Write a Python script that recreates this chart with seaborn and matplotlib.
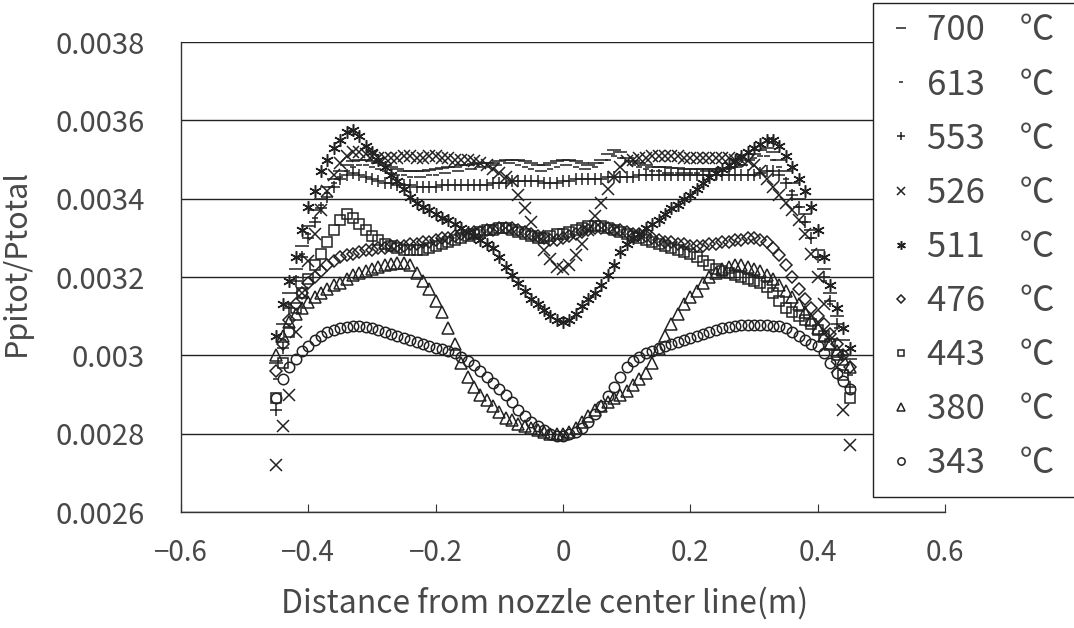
import numpy as np
import pandas as pd
import seaborn as sns
import matplotlib.pyplot as plt
from matplotlib.patches import Rectangle

# posiciones de medida (m)
x_pos = [-0.45, -0.44, -0.43, -0.42, -0.41, -0.40, -0.39, -0.38, -0.37, -0.36,
         -0.35, -0.34, -0.33, -0.32, -0.31, -0.30, -0.29, -0.28, -0.27, -0.26,
         -0.25, -0.24, -0.23, -0.22, -0.21, -0.20, -0.19, -0.18, -0.17, -0.16,
         -0.15, -0.14, -0.13, -0.12, -0.11, -0.10, -0.09, -0.08, -0.07, -0.06,
         -0.05, -0.04, -0.03, -0.02, -0.01, 0.00, 0.01, 0.02, 0.03, 0.04,
         0.05, 0.06, 0.07, 0.08, 0.09, 0.10, 0.11, 0.12, 0.13, 0.14,
         0.15, 0.16, 0.17, 0.18, 0.19, 0.20, 0.21, 0.22, 0.23, 0.24,
         0.25, 0.26, 0.27, 0.28, 0.29, 0.30, 0.31, 0.32, 0.33, 0.34,
         0.35, 0.36, 0.37, 0.38, 0.39, 0.40, 0.41, 0.42, 0.43, 0.44, 0.45]

# Ppitot/Ptotal en unidades de 1e-4
p700 = [29.8, 30.8, 31.6, 32.2, 32.8, 33.3, 33.7, 34.0, 34.3, 34.5,
        34.7, 34.85, 34.95, 35.0, 35.0, 34.95, 34.9, 34.85, 34.8, 34.75,
        34.7, 34.7, 34.7, 34.7, 34.72, 34.75, 34.78, 34.8, 34.82, 34.85,
        34.85, 34.88, 34.9, 34.9, 34.92, 34.95, 35.0, 35.0, 35.0, 34.95,
        34.9, 34.85, 34.85, 34.9, 34.95, 35.0, 35.0, 34.95, 34.9, 34.85,
        34.9, 35.0, 35.15, 35.25, 35.2, 35.05, 34.95, 34.9, 34.85, 34.8,
        34.8, 34.8, 34.78, 34.78, 34.75, 34.75, 34.75, 34.75, 34.75, 34.75,
        34.75, 34.78, 34.8, 34.85, 35.0, 35.15, 35.25, 35.3, 35.2, 35.0,
        34.7, 34.4, 34.0, 33.6, 33.2, 32.7, 32.2, 31.6, 31.0, 30.4, 29.9]

p613 = [29.4, 30.4, 31.3, 32.0, 32.6, 33.1, 33.5, 33.85, 34.15, 34.4,
        34.55, 34.7, 34.8, 34.85, 34.85, 34.8, 34.75, 34.7, 34.65, 34.6,
        34.6, 34.55, 34.55, 34.55, 34.6, 34.6, 34.65, 34.65, 34.7, 34.7,
        34.75, 34.75, 34.8, 34.8, 34.85, 34.85, 34.9, 34.9, 34.85, 34.8,
        34.75, 34.7, 34.7, 34.75, 34.8, 34.85, 34.85, 34.8, 34.75, 34.75,
        34.8, 34.9, 35.0, 35.1, 35.05, 34.95, 34.85, 34.8, 34.75, 34.7,
        34.7, 34.65, 34.65, 34.65, 34.65, 34.65, 34.65, 34.7, 34.7, 34.7,
        34.7, 34.75, 34.8, 34.85, 34.95, 35.05, 35.1, 35.1, 35.0, 34.8,
        34.5, 34.2, 33.8, 33.4, 33.0, 32.5, 31.9, 31.3, 30.7, 30.1, 29.5]

p553 = [28.6, 30.2, 31.2, 31.9, 32.5, 33.0, 33.4, 33.75, 34.05, 34.3,
        34.5, 34.6, 34.65, 34.6, 34.55, 34.5, 34.45, 34.4, 34.4, 34.35,
        34.35, 34.35, 34.3, 34.3, 34.3, 34.3, 34.35, 34.35, 34.35, 34.35,
        34.35, 34.35, 34.35, 34.35, 34.4, 34.4, 34.4, 34.45, 34.45, 34.45,
        34.45, 34.45, 34.4, 34.4, 34.4, 34.45, 34.45, 34.5, 34.5, 34.5,
        34.5, 34.5, 34.55, 34.55, 34.55, 34.55, 34.55, 34.6, 34.6, 34.6,
        34.6, 34.6, 34.6, 34.6, 34.6, 34.6, 34.6, 34.6, 34.6, 34.6,
        34.6, 34.6, 34.6, 34.6, 34.6, 34.6, 34.65, 34.7, 34.7, 34.6,
        34.4, 34.1, 33.8, 33.4, 33.0, 32.5, 32.0, 31.4, 30.8, 30.0, 29.2]

p526 = [27.2, 28.2, 29.0, 30.6, 31.6, 32.4, 33.1, 33.7, 34.2, 34.6,
        34.9, 35.1, 35.2, 35.2, 35.15, 35.1, 35.05, 35.05, 35.05, 35.05,
        35.1, 35.1, 35.05, 35.05, 35.1, 35.1, 35.05, 35.05, 35.0, 35.0,
        35.0, 34.95, 34.9, 34.85, 34.75, 34.65, 34.55, 34.45, 34.1, 33.75,
        33.4, 33.05, 32.7, 32.45, 32.25, 32.2, 32.3, 32.55, 32.85, 33.2,
        33.55, 33.9, 34.25, 34.55, 34.8, 34.95, 35.0, 35.05, 35.05, 35.1,
        35.1, 35.1, 35.1, 35.1, 35.05, 35.05, 35.05, 35.05, 35.05, 35.05,
        35.05, 35.05, 35.0, 35.0, 34.95, 34.85, 34.7, 34.5, 34.3, 34.1,
        33.9, 33.7, 33.45, 33.1, 32.6, 32.0, 31.3, 30.5, 29.7, 28.6, 27.7]

p511 = [30.5, 31.3, 31.9, 32.5, 33.2, 33.8, 34.2, 34.7, 35.0, 35.3,
        35.5, 35.7, 35.75, 35.6, 35.35, 35.2, 35.0, 34.8, 34.6, 34.45,
        34.25, 34.05, 33.9, 33.8, 33.7, 33.6, 33.5, 33.45, 33.35, 33.25,
        33.15, 33.05, 32.95, 32.85, 32.75, 32.5, 32.25, 32.05, 31.85, 31.65,
        31.45, 31.3, 31.15, 31.0, 30.9, 30.85, 30.9, 31.05, 31.25, 31.45,
        31.6, 31.8, 32.05, 32.3, 32.65, 32.85, 33.0, 33.1, 33.25, 33.35,
        33.45, 33.6, 33.75, 33.85, 34.0, 34.1, 34.25, 34.4, 34.55, 34.65,
        34.75, 34.85, 34.95, 35.1, 35.2, 35.3, 35.4, 35.5, 35.5, 35.35,
        35.1, 34.8, 34.5, 34.2, 33.8, 33.2, 32.5, 31.8, 31.2, 30.7, 30.2]

p476 = [29.6, 30.3, 30.9, 31.3, 31.6, 31.85, 32.0, 32.15, 32.3, 32.4,
        32.5, 32.55, 32.6, 32.65, 32.7, 32.7, 32.75, 32.75, 32.8, 32.8,
        32.8, 32.85, 32.85, 32.9, 32.9, 32.95, 33.0, 33.0, 33.05, 33.1,
        33.1, 33.15, 33.15, 33.2, 33.2, 33.25, 33.25, 33.25, 33.2, 33.15,
        33.1, 33.05, 33.0, 32.95, 32.95, 33.0, 33.05, 33.1, 33.15, 33.2,
        33.25, 33.25, 33.25, 33.2, 33.2, 33.15, 33.1, 33.1, 33.05, 33.0,
        32.95, 32.9, 32.9, 32.85, 32.85, 32.8, 32.8, 32.8, 32.85, 32.85,
        32.9, 32.9, 32.95, 32.95, 33.0, 33.0, 32.95, 32.9, 32.75, 32.55,
        32.3, 32.0, 31.7, 31.45, 31.2, 31.0, 30.8, 30.55, 30.3, 30.0, 29.7]

p443 = [28.9, 29.8, 30.6, 31.2, 31.6, 31.95, 32.3, 32.6, 32.9, 33.2,
        33.45, 33.6, 33.5, 33.35, 33.2, 33.05, 32.95, 32.85, 32.8, 32.75,
        32.7, 32.7, 32.7, 32.7, 32.75, 32.8, 32.85, 32.9, 32.95, 33.0,
        33.05, 33.1, 33.15, 33.2, 33.2, 33.25, 33.25, 33.2, 33.15, 33.1,
        33.05, 33.0, 33.0, 33.05, 33.1, 33.1, 33.15, 33.2, 33.25, 33.3,
        33.3, 33.3, 33.25, 33.2, 33.15, 33.1, 33.05, 33.0, 32.95, 32.9,
        32.85, 32.8, 32.75, 32.7, 32.65, 32.6, 32.5, 32.4, 32.3, 32.2,
        32.15, 32.1, 32.05, 32.0, 31.95, 31.9, 31.85, 31.75, 31.6, 31.4,
        31.2, 31.1, 31.0, 30.9, 30.8, 30.65, 30.5, 30.3, 30.0, 29.5, 28.9]

p380 = [30.0, 30.5, 30.85, 31.05, 31.2, 31.35, 31.5, 31.6, 31.7, 31.8,
        31.85, 31.95, 32.05, 32.1, 32.15, 32.2, 32.25, 32.3, 32.32, 32.35,
        32.35, 32.3, 32.1, 31.9, 31.7, 31.4, 31.1, 30.7, 30.3, 29.8,
        29.45, 29.2, 29.0, 28.85, 28.7, 28.55, 28.4, 28.35, 28.25, 28.2,
        28.15, 28.1, 28.05, 28.0, 28.0, 28.0, 28.05, 28.15, 28.3, 28.45,
        28.6, 28.7, 28.8, 28.9, 29.0, 29.1, 29.25, 29.4, 29.55, 29.8,
        30.15, 30.5, 30.8, 31.05, 31.3, 31.5, 31.65, 31.85, 32.0, 32.1,
        32.2, 32.25, 32.3, 32.3, 32.25, 32.2, 32.15, 32.05, 31.95, 31.8,
        31.65, 31.5, 31.3, 31.1, 30.9, 30.7, 30.5, 30.3, 30.1, 29.9, 29.7]

p343 = [28.9, 29.4, 29.7, 29.9, 30.1, 30.25, 30.4, 30.5, 30.6, 30.65,
        30.7, 30.72, 30.75, 30.75, 30.72, 30.7, 30.65, 30.6, 30.55, 30.5,
        30.45, 30.4, 30.35, 30.3, 30.25, 30.2, 30.15, 30.1, 30.05, 29.95,
        29.85, 29.75, 29.6, 29.45, 29.3, 29.15, 29.0, 28.8, 28.6, 28.45,
        28.3, 28.2, 28.1, 28.0, 27.95, 27.95, 28.0, 28.05, 28.15, 28.3,
        28.5, 28.7, 28.95, 29.2, 29.45, 29.7, 29.85, 29.95, 30.05, 30.1,
        30.2, 30.25, 30.3, 30.35, 30.4, 30.45, 30.5, 30.55, 30.6, 30.65,
        30.7, 30.72, 30.75, 30.77, 30.78, 30.78, 30.78, 30.77, 30.75, 30.75,
        30.7, 30.6, 30.5, 30.4, 30.3, 30.25, 30.05, 29.8, 29.55, 29.35, 29.15]

temps = ['700', '613', '553', '526', '511', '476', '443', '380', '343']
series = [p700, p613, p553, p526, p511, p476, p443, p380, p343]

x_ticks = [-0.6, -0.4, -0.2, 0, 0.2, 0.4, 0.6]
x_tick_labels = ['\u22120.6', '\u22120.4', '\u22120.2', '0', '0.2', '0.4', '0.6']
y_ticks = [0.0026, 0.0028, 0.0030, 0.0032, 0.0034, 0.0036, 0.0038]
y_tick_labels = ['0.0026', '0.0028', '0.003', '0.0032', '0.0034', '0.0036', '0.0038']

# estilo de cada serie (marcador, tamaño)
markers = ['_', '_', '+', 'x', (6, 2, 0), 'D', 's', '^', 'o']
msizes = [10, 5, 8.5, 8, 9, 6.5, 7, 8, 7.5]

ink = '#222222'
text_color = '#484848'

sns.set_theme(style='white')
plt.rcParams['font.family'] = ['Noto Sans CJK JP', 'DejaVu Sans']

fig = plt.figure(figsize=(10.74, 6.28), dpi=100)
ax = fig.add_axes([181 / 1074, 1 - 512 / 628, 764 / 1074, 470 / 628])

for t, vals, m, ms in zip(temps, series, markers, msizes):
    df = pd.DataFrame({'x': x_pos, 'y': np.array(vals) * 1e-4})
    sns.lineplot(data=df, x='x', y='y', ax=ax, linestyle='none', marker=m,
                 markersize=ms, markerfacecolor='none', markeredgecolor=ink,
                 markeredgewidth=1.1, color=ink, label=f'{t}\u3000\u2103',
                 errorbar=None, legend=False)

ax.set_xlim(-0.6, 0.6)
ax.set_ylim(0.0026, 0.0038)
ax.set_xticks(x_ticks)
ax.set_xticklabels(x_tick_labels)
ax.set_yticks(y_ticks)
ax.set_yticklabels(y_tick_labels)

ax.set_axisbelow(True)
ax.yaxis.grid(True, color='#222222', linewidth=1.0)
ax.xaxis.grid(False)
for side in ['right', 'top']:
    ax.spines[side].set_visible(False)
for side in ['left', 'bottom']:
    ax.spines[side].set_color('#333333')
    ax.spines[side].set_linewidth(1.0)

ax.tick_params(axis='x', direction='in', length=6, width=0.8, color='#333333',
               pad=19, labelsize=20, labelcolor=text_color, bottom=True)
ax.tick_params(axis='y', length=0, pad=26, labelsize=21, labelcolor=text_color)

ax.set_xlabel('Distance from nozzle center line(m)', fontsize=23, color=text_color)
ax.set_ylabel('Ppitot/Ptotal', fontsize=22, color=text_color)
ax.yaxis.set_label_coords(-0.195, 0.53)
ax.xaxis.set_label_coords(0.476, -0.16)

# caja de la leyenda: se sale por el borde derecho como en el original
box = Rectangle((873 / 1074, 1 - 497 / 628), 0.3, 494 / 628,
                transform=fig.transFigure, facecolor='white',
                edgecolor='#222222', linewidth=1.0, zorder=4)
fig.add_artist(box)

handles, labels = ax.get_legend_handles_labels()
leg = fig.legend(handles, labels, loc='upper left',
                 bbox_to_anchor=(873 / 1074, 1 - 3 / 628), borderaxespad=0,
                 frameon=False,
                 prop={'family': ['Noto Sans CJK JP'], 'size': 25},
                 labelspacing=0.55, handlelength=1.0, handletextpad=0.25,
                 borderpad=0.3, markerscale=0.7)
leg.set_zorder(5)
for txt in leg.get_texts():
    txt.set_color(text_color)

fig.savefig('out.png', dpi=100)
plt.close(fig)
